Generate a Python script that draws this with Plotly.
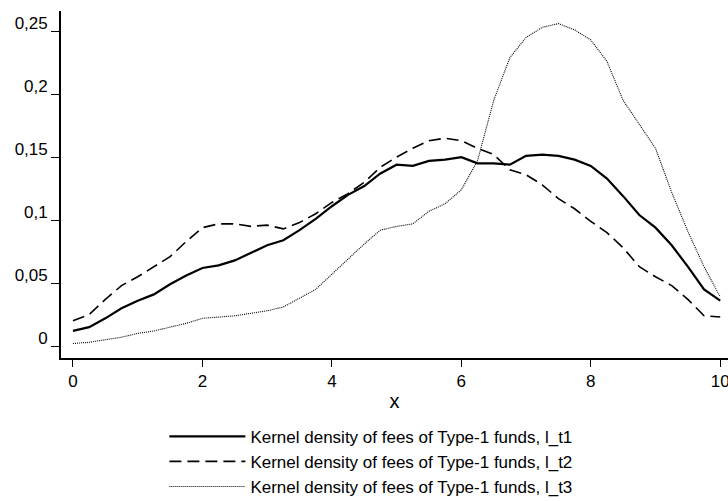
import plotly.graph_objects as go

# Grid of x values (fees)
x_vals = [0, 0.25, 0.5, 0.75, 1.0, 1.25, 1.5, 1.75, 2.0, 2.25, 2.5, 2.75, 3.0, 3.25,
          3.5, 3.75, 4.0, 4.25, 4.5, 4.75, 5.0, 5.25, 5.5, 5.75, 6.0, 6.25, 6.5, 6.75,
          7.0, 7.25, 7.5, 7.75, 8.0, 8.25, 8.5, 8.75, 9.0, 9.25, 9.5, 9.75, 10.0]

# Kernel density, l_t1 (solid)
dens_t1 = [0.012, 0.015, 0.022, 0.030, 0.036, 0.041, 0.049, 0.056, 0.062, 0.064, 0.068,
           0.074, 0.080, 0.084, 0.092, 0.101, 0.111, 0.120, 0.127, 0.137, 0.144, 0.143,
           0.147, 0.148, 0.150, 0.145, 0.145, 0.144, 0.151, 0.152, 0.151, 0.148, 0.143,
           0.133, 0.119, 0.104, 0.094, 0.080, 0.063, 0.045, 0.036]

# Kernel density, l_t2 (dashed)
dens_t2 = [0.020, 0.025, 0.037, 0.048, 0.055, 0.063, 0.071, 0.083, 0.094, 0.097, 0.097,
           0.095, 0.096, 0.093, 0.098, 0.105, 0.114, 0.121, 0.130, 0.142, 0.150, 0.157,
           0.163, 0.165, 0.163, 0.157, 0.152, 0.140, 0.136, 0.128, 0.117, 0.109, 0.099,
           0.090, 0.078, 0.063, 0.055, 0.048, 0.037, 0.024, 0.023]

# Kernel density, l_t3 (dotted)
dens_t3 = [0.002, 0.003, 0.005, 0.007, 0.010, 0.012, 0.015, 0.018, 0.022, 0.023, 0.024,
           0.026, 0.028, 0.031, 0.038, 0.045, 0.057, 0.069, 0.081, 0.092, 0.095, 0.097,
           0.107, 0.113, 0.124, 0.147, 0.195, 0.229, 0.245, 0.253, 0.256, 0.251, 0.243,
           0.226, 0.195, 0.176, 0.157, 0.122, 0.091, 0.063, 0.039]

series_names = ["Kernel density of fees of Type-1 funds, l_t1",
                "Kernel density of fees of Type-1 funds, l_t2",
                "Kernel density of fees of Type-1 funds, l_t3"]

y_tickvals = [0, 0.05, 0.1, 0.15, 0.2, 0.25]
y_ticktext = ["0", "0,05", "0,1", "0,15", "0,2", "0,25"]
x_tickvals = [0, 2, 4, 6, 8, 10]
x_ticktext = ["0", "2", "4", "6", "8", "10"]

FONT = "Liberation Sans, Arial, sans-serif"

fig = go.Figure()
fig.add_trace(go.Scatter(x=x_vals, y=dens_t1, mode="lines", name=series_names[0],
                         line=dict(color="black", width=2.2)))
fig.add_trace(go.Scatter(x=x_vals, y=dens_t2, mode="lines", name=series_names[1],
                         line=dict(color="black", width=1.6, dash="12px,6px")))
fig.add_trace(go.Scatter(x=x_vals, y=dens_t3, mode="lines", name=series_names[2],
                         line=dict(color="black", width=1.1, dash="1px,1px")))

fig.update_layout(
    width=728, height=501,
    margin=dict(l=61, r=0, t=11, b=143, autoexpand=False),
    paper_bgcolor="white", plot_bgcolor="white",
    font=dict(family=FONT, size=17, color="black"),
    showlegend=True,
    legend=dict(orientation="v", x=0.155, xanchor="left", y=-0.175, yanchor="top",
                font=dict(size=17), itemwidth=76, tracegroupgap=0,
                bgcolor="rgba(0,0,0,0)"),
    xaxis=dict(range=[-0.185, 10.12], tickvals=x_tickvals, ticktext=x_ticktext,
               showgrid=False, zeroline=False, showline=True, linecolor="black",
               linewidth=1.7, ticks="outside", ticklen=7, tickwidth=1, tickcolor="black",
               ticklabeloverflow="allow", automargin=False,
               title=dict(text="x", standoff=4)),
    yaxis=dict(range=[-0.0095, 0.266], tickvals=y_tickvals, ticktext=y_ticktext,
               showgrid=False, zeroline=False, showline=True, linecolor="black",
               linewidth=1.7, ticks="outside", ticklen=8, tickwidth=1, tickcolor="black",
               ticklabelshift=-8, automargin=False),
)

fig.write_html("out.html", config={"displayModeBar": False},
               post_script="document.body.style.margin='0';document.body.style.overflow='hidden';")
